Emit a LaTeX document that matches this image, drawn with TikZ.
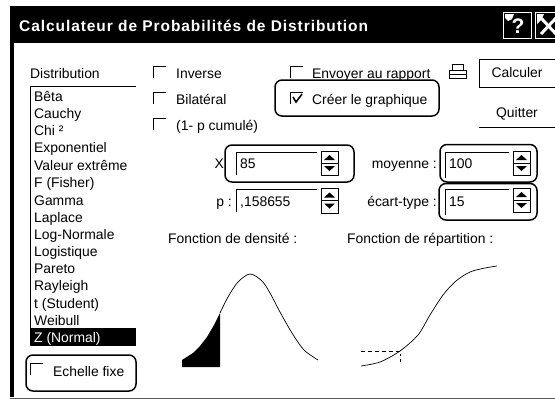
\documentclass[tikz,border=0pt]{standalone}
\usepackage{fontspec}
\setmainfont{Liberation Sans}
\newfontfamily\titlefont[LetterSpace=6]{Liberation Sans Bold}
\tikzset{
  ui/.style={font=\fontsize{13.9}{15}\selectfont,inner sep=0pt,text=black,text height=10pt,text depth=0pt},
  lft/.style={ui,anchor=west},
  rgt/.style={ui,anchor=east},
  halo/.style={draw=black,line width=1.5pt,rounded corners=7pt},
  edge/.style={line width=1pt,draw=black},
}
\newcommand{\spin}[3]{%
  \draw[edge] (#1,#2) rectangle (#1+17,#3);
  \draw[edge] (#1,{(#2+#3)/2}) -- (#1+17,{(#2+#3)/2});
  \fill (#1+3,{(#2+#3)/2-3}) -- (#1+14,{(#2+#3)/2-3}) -- (#1+8.5,{(#2+#3)/2-8}) -- cycle;
  \fill (#1+3,{(#2+#3)/2+3}) -- (#1+14,{(#2+#3)/2+3}) -- (#1+8.5,{(#2+#3)/2+8}) -- cycle;
}
\newcommand{\chk}[2]{\draw[edge] (#1,#2+12) -- (#1,#2) -- (#1+13,#2);}
\begin{document}
\begin{tikzpicture}[x=1pt,y=-1pt]
\useasboundingbox (0,0) rectangle (555,399);
\fill[white] (0,0) rectangle (555,399);
% window
\fill[black] (10,6) rectangle (555,43);
\fill[black] (10,6) rectangle (14,397);
\draw[gray!70!black,line width=1pt] (10,398) -- (555,398);
\node[anchor=west,inner sep=0pt,text=white,font=\titlefont\fontsize{15.5}{17}\selectfont] (title) at (19,26) {Calculateur de Probabilités de Distribution};
% title buttons
\draw[white,line width=1pt,fill=black] (503,12) rectangle (531,38);
\fill[white] (505,14) -- (514,14) -- (512,19) -- (508,21) -- (505,18) -- cycle;
\node[text=white,inner sep=0pt,font=\bfseries\fontsize{21}{21}\selectfont] (help) at (518,26) {?};
\draw[white,line width=1pt,fill=black] (535,12) rectangle (556,38);
\fill[white] (537,14) -- (544,14) -- (541,20) -- (537,24) -- cycle;
\draw[white,line width=3pt] (541,18) -- (556,34) (541,34) -- (556,18);
% list
\node[lft] (dist) at (30,73) {Distribution};
\draw[edge] (136,86) -- (30.5,86) -- (30.5,346);
\fill[black] (30,328) rectangle (136,346);
\foreach \t/\y/\n in {B\^eta/96/a,Cauchy/113/b,Chi ²/130/c,Exponentiel/147/d,Valeur extr\^eme/165/e,F (Fisher)/182/f,Gamma/200/g,Laplace/217/h,Log-Normale/234/i,Logistique/251/j,Pareto/268/k,Rayleigh/285/l,t (Student)/303/m,Weibull/320/n}
  \node[lft] (item\n) at (34,\y) {\t};
\node[lft,text=white] (itemz) at (34,337) {Z (Normal)};
% echelle
\draw[halo] (26,355) rectangle (136,391);
\chk{30}{363}
\node[lft] (echelle) at (53,371) {Echelle fixe};
% checks
\chk{153}{66}
\node[lft] (inv) at (176,73) {Inverse};
\chk{153}{92}
\node[lft] (bil) at (176,99) {Bilatéral};
\chk{153}{118}
\node[lft] (cum) at (176,125) {(1- p cumulé)};
\chk{290}{66}
\node[lft] (env) at (312,73) {Envoyer au rapport};
\draw[halo,fill=white] (275,80) rectangle (439,116);
\chk{290}{92}
\draw[line width=1.6pt] (293,97) -- (296,102) -- (302,94);
\node[lft] (creer) at (312,99) {Créer le graphique};
% printer
\draw[line width=1pt] (452,70) -- (452,64) -- (463,64) -- (463,70);
\draw[line width=1pt,fill=white] (449,70) rectangle (466,78);
\draw[line width=1pt] (449,74) -- (466,74);
% buttons
\draw[edge] (555,59) -- (479,59) -- (479,87) -- (555,87);
\node[ui] (calc) at (517,72) {Calculer};
\node[ui] (quit) at (517,112) {Quitter};
\draw[edge] (479,127) -- (555,127);
% X row
\node[rgt] (xlab) at (224,163) {X};
\draw[halo] (225,145) rectangle (354,182);
\draw[edge] (317,152) -- (236,152) -- (236,175);
\node[lft] (xval) at (240,163) {85};
\spin{321}{151}{175}
% p row
\node[rgt] (plab) at (232,201) {p :};
\draw[edge] (317,189) -- (236,189) -- (236,212);
\node[lft] (pval) at (240,201) {,158655};
\spin{321}{188}{213}
% moyenne
\node[rgt] (moy) at (437,163) {moyenne :};
\draw[halo] (440,144.5) rectangle (537,182);
\draw[edge] (509,152) -- (445,152) -- (445,178);
\node[lft] (mval) at (449,163) {100};
\spin{513}{151}{175}
% ecart
\node[rgt] (ecart) at (437,201) {écart-type :};
\draw[halo] (439,183.5) rectangle (537,220);
\draw[edge] (509,189) -- (445,189) -- (445,215);
\node[lft] (eval) at (449,201) {15};
\spin{513}{188}{212}
% charts
\node[lft] (fd) at (168,238) {Fonction de densité :};
\node[lft] (fr) at (347,238) {Fonction de répartition :};
\fill[black] (182,367) -- (182,360) -- (193,353) -- (200,346) -- (207,337) -- (214,325) -- (220,313) -- (220,367) -- cycle;
\draw[line width=0.7pt] plot[smooth] coordinates {(220,313) (228,297) (238,282) (250,274) (262,281) (270,293) (280,312) (292,333) (304,350) (318,360)};
\draw[line width=0.7pt] plot[smooth] coordinates {(361,366) (380,362) (400,351) (418,335) (430,315) (443,295) (456,281) (470,272) (485,268) (497,266)};
\draw[line width=0.7pt,dash pattern=on 4pt off 3pt] (361,351) -- (400,351);
\draw[line width=0.7pt] (400,354) -- (400,356) (400,359) -- (400,362);
\end{tikzpicture}
\end{document}
